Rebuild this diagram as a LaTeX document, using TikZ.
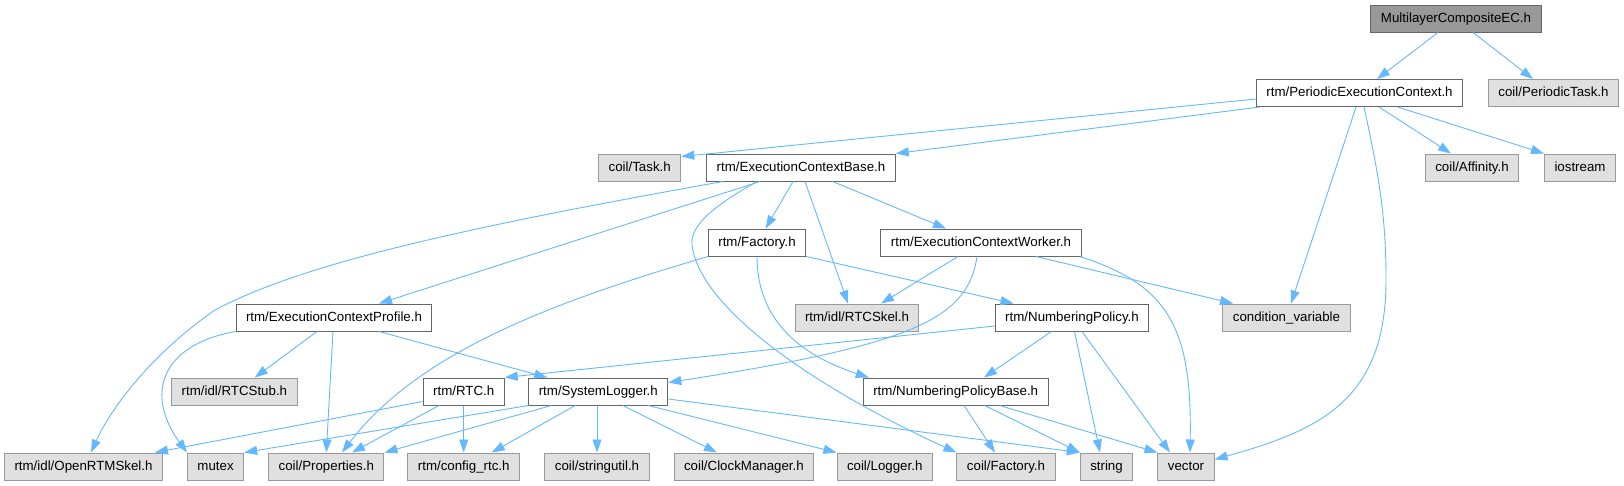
\documentclass[tikz,border=0pt]{standalone}
\usepackage{fontspec}
\setmainfont{Liberation Sans}
\usetikzlibrary{arrows.meta}
\definecolor{edgeblue}{HTML}{63B8FF}
\definecolor{boxgray}{HTML}{E0E0E0}
\definecolor{rimgray}{HTML}{999999}
\definecolor{rimdark}{HTML}{666666}
\definecolor{rootgray}{HTML}{999999}

\begin{document}
\begin{tikzpicture}[x=1pt,y=-1pt,
	sys/.style={draw=rimgray,fill=boxgray},
	inc/.style={draw=edgeblue,line width=0.9pt,-{Triangle[length=13pt,width=9pt]}}]
	\useasboundingbox (0,0) rectangle (1624,485);
	\begin{scope}[every node/.style={draw=rimdark,fill=white,line width=1pt,minimum height=27pt,inner xsep=10pt,inner ysep=0pt,text height=9.6pt,text depth=2.6pt,font=\fontsize{13.3}{16}\selectfont}]
		\node[fill=rootgray] (mcec) at (1456,18.5) {MultilayerCompositeEC.h};
		\node (pec) at (1359.5,93) {rtm/PeriodicExecutionContext.h};
		\node[sys] (ptask) at (1553.5,93) {coil/PeriodicTask.h};
		\node[sys] (task) at (639.7,167.5) {coil/Task.h};
		\node (ecb) at (801,167.5) {rtm/ExecutionContextBase.h};
		\node[sys] (affin) at (1472,167.5) {coil/Affinity.h};
		\node[sys] (iostr) at (1580,167.5) {iostream};
		\node (fact) at (757,242.5) {rtm/Factory.h};
		\node (ecw) at (981,242.5) {rtm/ExecutionContextWorker.h};
		\node (ecp) at (334,317.5) {rtm/ExecutionContextProfile.h};
		\node[sys] (rtcskel) at (857,317.5) {rtm/idl/RTCSkel.h};
		\node (numpol) at (1072,317.5) {rtm/NumberingPolicy.h};
		\node[sys] (condvar) at (1286.5,317.5) {condition\_variable};
		\node[sys] (rtcstub) at (234.4,391.5) {rtm/idl/RTCStub.h};
		\node (rtc) at (463.7,391.5) {rtm/RTC.h};
		\node (syslog) at (598.3,391.5) {rtm/SystemLogger.h};
		\node (npbase) at (955.7,391.5) {rtm/NumberingPolicyBase.h};
		\node[sys] (openskel) at (83.5,466.5) {rtm/idl/OpenRTMSkel.h};
		\node[sys] (mutex) at (215.6,466.5) {mutex};
		\node[sys] (props) at (326.3,466.5) {coil/Properties.h};
		\node[sys] (cfgrtc) at (463.7,466.5) {rtm/config\_rtc.h};
		\node[sys] (strutil) at (597,466.5) {coil/stringutil.h};
		\node[sys] (clock) at (743.9,466.5) {coil/ClockManager.h};
		\node[sys] (logger) at (884.7,466.5) {coil/Logger.h};
		\node[sys] (cfact) at (1006,466.5) {coil/Factory.h};
		\node[sys] (string) at (1106.5,466.5) {string};
		\node[sys] (vector) at (1186,466.5) {vector};
	\end{scope}
	\draw[inc] ([xshift=-18pt]mcec.south) -- ([xshift=17.5pt]pec.north);
	\draw[inc] ([xshift=17pt]mcec.south) -- ([xshift=-20.5pt]ptask.north);
	\draw[inc] ([yshift=-6pt]pec.west) -- ([yshift=-3pt]task.north east);
	\draw[inc] ([xshift=4pt]pec.south west) -- (ecb.north east);
	\draw[inc] ([xshift=19.5pt]pec.south) -- ([xshift=-21pt]affin.north);
	\draw[inc] ([xshift=38pt]pec.south) -- (iostr.north west);
	\draw[inc] ([xshift=-3.5pt]pec.south) -- ([xshift=4.5pt]condvar.north);
	\draw[inc] ([xshift=4.5pt]pec.south) .. controls (1380,180) and (1386,220) .. (1386,280) .. controls (1386,400) and (1320,430) .. ([yshift=7pt]vector.east);
	\draw[inc] ([xshift=-78pt]ecb.south) .. controls (450,230) and (300,265) .. (215,310) .. controls (150,355) and (110,410) .. ([xshift=7.5pt]openskel.north);
	\draw[inc] ([xshift=-41pt]ecb.south) -- ([xshift=45pt]ecp.north);
	\draw[inc] ([xshift=-8pt]ecb.south) -- ([xshift=8.6pt]fact.north);
	\draw[inc] ([xshift=4pt]ecb.south) -- ([xshift=-9pt]rtcskel.north);
	\draw[inc] ([xshift=31.7pt]ecb.south) -- ([xshift=-35pt]ecw.north);
	\draw[inc] ([xshift=-44pt]ecb.south) .. controls (715,205) and (690,225) .. (692,245) .. controls (700,310) and (820,390) .. (cfact.north west);
	\draw[inc] ([xshift=-49pt]fact.south) .. controls (560,300) and (420,350) .. ([xshift=15.7pt]props.north);
	\draw[inc] (fact.south east) -- ([xshift=-58.5pt]numpol.north);
	\draw[inc] (fact.south) .. controls (757,320) and (800,355) .. ([xshift=-87pt]npbase.north);
	\draw[inc] ([xshift=-23pt]ecw.south) -- ([xshift=24pt]rtcskel.north);
	\draw[inc] ([xshift=55pt]ecw.south) -- ([xshift=-53.5pt]condvar.north);
	\draw[inc] ([xshift=-2pt]ecw.south east) .. controls (1170,285) and (1192,330) .. ([xshift=4pt]vector.north);
	\draw[inc] ([xshift=-4pt]ecw.south) .. controls (968,320) and (910,345) .. ([yshift=9pt]syslog.east);
	\draw[inc] (ecp.south west) .. controls (160,345) and (145,395) .. ([xshift=-28.6pt]mutex.north);
	\draw[inc] ([xshift=-17pt]ecp.south) -- ([xshift=20.4pt]rtcstub.north);
	\draw[inc] ([xshift=-1pt]ecp.south) -- (props.north);
	\draw[inc] ([xshift=45pt]ecp.south) -- ([xshift=-51pt]syslog.north);
	\draw[inc] ([yshift=-8.5pt]numpol.west) -- (rtc.north east);
	\draw[inc] ([xshift=-20.6pt]numpol.south) -- ([xshift=28.3pt]npbase.north);
	\draw[inc] ([xshift=2.5pt]numpol.south) -- ([xshift=-6.5pt]string.north);
	\draw[inc] ([xshift=10pt]numpol.south) -- ([xshift=-16pt]vector.north);
	\draw[inc] ([yshift=-10pt]rtc.west) -- ([xshift=71.5pt]openskel.north);
	\draw[inc] ([xshift=-24.7pt]rtc.south) -- ([xshift=25.7pt]props.north);
	\draw[inc] (rtc.south) -- (cfgrtc.north);
	\draw[inc] (syslog.south west) -- (mutex.north east);
	\draw[inc] ([xshift=-47pt]syslog.south) -- (props.north east);
	\draw[inc] ([xshift=-23pt]syslog.south) -- ([xshift=28pt]cfgrtc.north);
	\draw[inc] ([xshift=-1.3pt]syslog.south) -- (strutil.north);
	\draw[inc] ([xshift=24.7pt]syslog.south) -- ([xshift=-27pt]clock.north);
	\draw[inc] ([xshift=50pt]syslog.south) -- (logger.north west);
	\draw[inc] ([yshift=-7.5pt]syslog.east) -- (string.north west);
	\draw[inc] ([xshift=8.3pt]npbase.south) -- ([xshift=-11pt]cfact.north);
	\draw[inc] ([xshift=29pt]npbase.south) -- (string.north west);
	\draw[inc] ([xshift=44pt]npbase.south) -- (vector.north west);
\end{tikzpicture}
\end{document}
